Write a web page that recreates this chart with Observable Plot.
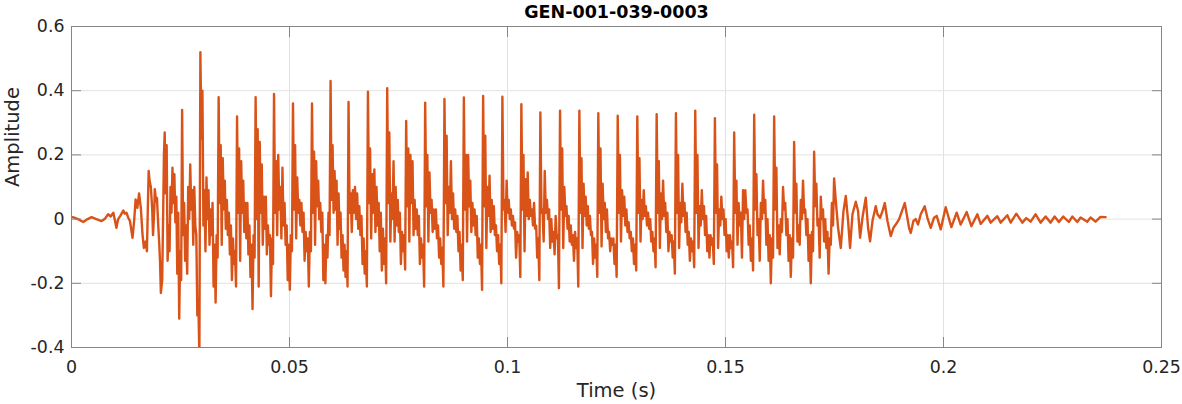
<!DOCTYPE html>
<html>
<head>
<meta charset="utf-8">
<script src="https://cdn.jsdelivr.net/npm/d3@7"></script>
<script src="https://cdn.jsdelivr.net/npm/@observablehq/plot@0.6"></script>
<style>
  html, body { margin: 0; padding: 0; background: #fff; }
</style>
</head>
<body>
<div id="chart"></div>
<script>
// ---- Labels ----
const chartTitle = "GEN-001-039-0003";
const xAxisLabel = "Time (s)";
const yAxisLabel = "Amplitude";
const xTicks = [0, 0.05, 0.1, 0.15, 0.2, 0.25];
const xTickLabels = ["0", "0.05", "0.1", "0.15", "0.2", "0.25"];
const yTicks = [-0.4, -0.2, 0, 0.2, 0.4, 0.6];
const yTickLabels = ["-0.4", "-0.2", "0", "0.2", "0.4", "0.6"];

// ---- Onset (before regular voicing), time in ms and amplitude ----
const onsetMs = [0.3, 1.5, 2.7, 3.7, 4.6, 5.7, 6.9, 7.6, 8.4, 9.0, 9.6, 9.9, 10.3, 10.7, 11.2, 11.9, 12.2, 12.6, 13.0, 13.4,
  14.0, 14.4, 14.7, 15.1, 15.5, 15.9, 16.3, 16.6, 17.0, 17.3, 17.5, 17.7, 17.9, 18.2, 18.5, 18.7, 19.0, 19.1, 19.4, 19.6,
  19.9, 20.1, 20.3, 20.5, 20.8, 21.0, 21.2];
const onsetAmp = [0.006, 0.0, -0.009, 0.0, 0.006, 0.0, -0.006, 0.0, 0.015, 0.008, 0.02, 0.0, -0.027, 0.0, 0.01, 0.027, 0.017, 0.02, 0.005, -0.006,
  -0.058, 0.0, 0.061, 0.035, 0.08, 0.035, -0.05, -0.09, -0.07, -0.1, 0.03, 0.15, 0.12, 0.1, 0.035, -0.05, 0.035, 0.093, 0.055, 0.066,
  -0.02, -0.07, -0.13, -0.23, -0.19, -0.005, 0.2];

// ---- Voiced cycles: time (ms) of each main peak ----
const peakMs = [21.38, 25.37, 29.56, 33.75, 37.97, 42.23, 46.45, 50.80, 55.16, 59.42, 63.54, 67.99, 72.41, 76.76, 81.12,
  85.54, 89.99, 94.41, 98.83, 103.18, 107.54, 112.05, 116.48, 120.83, 125.28, 129.77, 134.21, 138.63, 143.06, 147.57,
  151.99, 156.58, 161.16, 165.74, 170.33, 174.91];

// ---- Within each cycle: successive local highs (first = main peak) ----
const cycleHigh = [
  [0.27, 0.23, -0.02, 0.10, 0.16, 0.14, 0.07, 0.02, -0.10],
  [0.34, 0.05, -0.02, 0.10, 0.17, 0.09, 0.10, -0.05, -0.25],
  [0.52, 0.40, 0.09, 0.13, 0.09, 0.03, 0.05, -0.08, -0.05],
  [0.38, 0.23, 0.19, 0.12, 0.06, 0.02, -0.02, -0.06, -0.10],
  [0.32, 0.22, 0.18, 0.12, 0.05, 0.05, -0.02, -0.08, -0.05],
  [0.38, 0.28, 0.24, 0.17, 0.07, 0.07, -0.02, -0.05, -0.06],
  [0.39, 0.18, 0.20, 0.10, 0.16, 0.05, -0.02, -0.08, -0.05],
  [0.36, 0.23, 0.13, 0.06, 0.05, 0.02, -0.04, -0.06, -0.04],
  [0.36, 0.21, 0.18, 0.12, 0.05, 0.02, -0.08, -0.05, 0.02],
  [0.43, 0.23, 0.15, 0.12, 0.08, 0.02, -0.05, -0.08, -0.10],
  [0.365, 0.08, 0.09, 0.10, 0.08, 0.04, 0.01, -0.06, -0.10],
  [0.397, 0.22, 0.14, 0.155, 0.10, 0.05, 0.02, -0.03, -0.06],
  [0.408, 0.27, 0.08, 0.18, 0.10, 0.06, 0.02, -0.04, -0.05],
  [0.306, 0.22, 0.20, 0.18, 0.06, 0.03, 0.01, -0.06, -0.08],
  [0.363, 0.20, 0.145, 0.06, 0.03, 0.03, -0.02, -0.06, -0.09],
  [0.374, 0.26, 0.10, 0.18, 0.08, 0.03, 0.01, -0.04, -0.08],
  [0.379, 0.20, 0.20, 0.12, 0.05, 0.03, 0.01, -0.06, -0.08],
  [0.384, 0.26, 0.10, 0.135, 0.06, 0.04, -0.02, -0.05, -0.08],
  [0.381, 0.06, 0.12, 0.06, 0.03, 0.01, -0.01, -0.04, -0.05],
  [0.358, 0.20, 0.124, 0.145, 0.06, 0.03, 0.05, -0.02, -0.06],
  [0.332, 0.03, 0.15, 0.06, 0.03, 0.00, -0.04, 0.01, -0.05],
  [0.338, 0.22, 0.10, 0.04, 0.01, -0.02, -0.05, -0.04, -0.06],
  [0.338, 0.19, 0.11, 0.07, 0.04, 0.01, -0.04, -0.06, -0.08],
  [0.33, 0.22, 0.11, 0.05, 0.03, -0.04, -0.06, -0.06, -0.08],
  [0.322, 0.20, 0.09, 0.07, 0.03, -0.01, -0.04, -0.06, -0.08],
  [0.32, 0.19, 0.06, 0.09, 0.04, 0.02, 0.00, -0.04, -0.06],
  [0.327, 0.18, 0.08, 0.12, 0.05, 0.02, -0.04, -0.05, -0.07],
  [0.33, 0.20, 0.05, 0.11, 0.05, 0.02, -0.04, -0.06, -0.07],
  [0.338, 0.20, 0.04, 0.09, 0.04, 0.01, -0.05, -0.05, -0.06],
  [0.314, 0.17, 0.03, 0.07, 0.03, 0.00, -0.05, -0.05, -0.07],
  [0.27, 0.12, 0.05, 0.02, 0.09, 0.09, 0.03, -0.02, -0.06],
  [0.325, 0.14, 0.00, 0.05, 0.12, 0.06, 0.00, -0.05, -0.06],
  [0.32, 0.16, -0.02, 0.00, 0.10, 0.05, 0.00, -0.05, -0.06],
  [0.24, 0.11, -0.02, 0.06, 0.12, 0.03, 0.00, -0.05, -0.04],
  [0.21, 0.11, 0.00, 0.07, 0.03, 0.00, -0.04, -0.06, 0.05]
];
// ---- Within each cycle: successive local lows (last = trough before next peak) ----
const cycleLow = [
  [0.08, -0.13, -0.10, 0.02, 0.05, -0.01, -0.17, -0.31, -0.19],
  [-0.05, -0.13, -0.17, 0.00, 0.03, -0.08, -0.02, -0.30, -0.43],
  [0.25, -0.02, -0.10, 0.00, -0.08, -0.05, -0.21, -0.26, -0.12],
  [0.05, -0.08, 0.03, -0.03, -0.05, -0.11, -0.19, -0.14, -0.21],
  [0.02, -0.13, 0.02, -0.04, -0.06, -0.11, -0.18, -0.28, -0.12],
  [0.00, -0.21, 0.02, -0.08, -0.03, -0.11, -0.08, -0.24, -0.14],
  [0.02, -0.05, 0.03, -0.06, -0.02, -0.08, -0.19, -0.22, -0.10],
  [0.03, -0.06, 0.02, -0.02, -0.04, -0.13, -0.10, -0.21, -0.10],
  [0.02, -0.08, 0.04, 0.00, -0.04, -0.19, -0.20, -0.12, -0.05],
  [0.06, 0.02, 0.03, -0.08, -0.03, -0.12, -0.16, -0.18, -0.21],
  [0.02, -0.04, 0.02, 0.00, -0.03, -0.05, -0.14, -0.17, -0.21],
  [0.05, -0.06, 0.02, -0.04, -0.02, -0.10, -0.16, -0.14, -0.20],
  [0.05, -0.07, 0.00, -0.07, -0.02, -0.04, -0.14, -0.10, -0.157],
  [0.04, -0.07, 0.05, -0.05, -0.03, -0.05, -0.14, -0.12, -0.21],
  [0.04, -0.07, 0.02, -0.04, -0.03, -0.06, -0.12, -0.14, -0.21],
  [0.05, -0.05, 0.02, 0.00, -0.03, -0.04, -0.10, -0.16, -0.19],
  [0.03, -0.07, 0.04, -0.04, -0.02, -0.05, -0.12, -0.14, -0.22],
  [0.04, -0.09, 0.01, -0.04, -0.03, -0.05, -0.10, -0.14, -0.20],
  [0.03, -0.04, 0.02, 0.00, -0.02, -0.03, -0.12, -0.07, -0.18],
  [0.03, -0.10, 0.01, 0.00, 0.01, -0.02, -0.03, -0.12, -0.19],
  [0.02, -0.07, 0.02, 0.00, -0.09, -0.07, -0.11, -0.06, -0.215],
  [0.03, -0.09, 0.01, -0.03, -0.07, -0.08, -0.13, -0.09, -0.21],
  [0.02, -0.09, 0.01, -0.02, -0.03, -0.05, -0.14, -0.12, -0.18],
  [0.02, -0.085, 0.00, -0.04, -0.06, -0.10, -0.08, -0.14, -0.18],
  [0.02, -0.07, 0.01, -0.02, -0.04, -0.06, -0.10, -0.14, -0.16],
  [0.02, -0.07, 0.00, 0.01, -0.02, -0.03, -0.07, -0.10, -0.15],
  [0.02, -0.09, 0.00, 0.01, -0.04, -0.10, -0.07, -0.12, -0.17],
  [0.02, -0.09, -0.01, 0.01, -0.04, -0.08, -0.13, -0.10, -0.15],
  [0.02, -0.09, -0.02, 0.00, -0.05, -0.10, -0.12, -0.08, -0.14],
  [0.02, -0.09, -0.02, 0.00, -0.05, -0.10, -0.12, -0.09, -0.15],
  [0.02, -0.08, -0.02, -0.12, 0.00, 0.02, -0.08, -0.13, -0.16],
  [0.03, -0.05, -0.13, 0.00, 0.02, -0.08, -0.13, -0.20, -0.12],
  [0.03, -0.09, -0.11, -0.04, 0.03, -0.05, -0.13, -0.18, -0.12],
  [0.02, -0.07, -0.08, 0.00, 0.02, -0.05, -0.13, -0.20, -0.10],
  [0.04, -0.02, -0.12, 0.00, -0.07, -0.09, -0.17, -0.08, -0.02]
];

// ---- Decaying tail, time in ms and amplitude ----
const tailMs = [174.91, 175.30, 175.82, 176.44, 177.06, 177.59, 178.12, 178.57, 179.12, 179.88, 180.41, 180.87, 181.41,
  182.17, 182.70, 183.16, 183.71, 184.46, 184.85, 185.45, 186.00, 186.53, 187.15, 187.90, 188.52, 189.05, 189.80, 190.35,
  191.11, 191.57, 192.10, 192.48, 193.10, 193.63, 194.16, 194.78, 195.69, 196.31, 197.07, 197.82, 198.44, 199.36, 200.50,
  201.81, 203.02, 203.94, 205.32, 206.39, 207.77, 208.52, 210.06, 210.82, 212.35, 213.11, 214.64, 215.40, 216.70, 218.08,
  218.99, 219.98, 221.13, 222.27, 223.42, 224.56, 225.48, 226.47, 227.47, 228.76, 229.54, 230.68, 231.44, 232.97, 233.73,
  234.88, 236.02, 237.17];
const tailAmp = [0.127, 0.056, -0.027, -0.09, 0.025, 0.072, -0.006, -0.09, 0.015, 0.054, 0.025, -0.058, 0.004,
  0.067, -0.027, -0.069, -0.006, 0.04, 0.015, 0.004, 0.025, 0.05, -0.006, -0.053, -0.027, -0.017, -0.001, 0.02,
  0.05, 0.015, -0.027, -0.043, -0.006, 0.0, -0.017, 0.015, 0.04, 0.004, -0.027, 0.004, 0.01, -0.032, 0.037,
  -0.025, 0.02, -0.017, 0.022, -0.022, 0.015, -0.015, 0.01, -0.011, 0.009, -0.011, 0.012, -0.011, 0.017, -0.011,
  0.003, -0.008, 0.015, -0.011, 0.008, -0.011, 0.008, -0.009, 0.008, -0.009, 0.008, -0.009, 0.005, -0.008, 0.005,
  -0.008, 0.007, 0.006];

// ---- Build the sample table ----
const samples = [];
onsetMs.forEach((t, i) => samples.push({t: t / 1000, a: onsetAmp[i]}));
cycleHigh.forEach((hi, k) => {
  const lo = cycleLow[k];
  const t0 = peakMs[k], t1 = peakMs[k + 1];
  const n = hi.length + lo.length;
  hi.forEach((h, j) => {
    samples.push({t: (t0 + (t1 - t0) * (2 * j) / n) / 1000, a: h});
    samples.push({t: (t0 + (t1 - t0) * (2 * j + 1) / n) / 1000, a: lo[j]});
  });
});
tailMs.forEach((t, i) => samples.push({t: t / 1000, a: tailAmp[i]}));

const fmtFrom = (ticks, labels) => (d) => labels[ticks.findIndex((v) => Math.abs(v - d) < 1e-9)];
const axisGray = "#868686";
const textGray = "#262626";

const chart = Plot.plot({
  width: 1182,
  height: 404,
  marginLeft: 71,
  marginRight: 21,
  marginTop: 26,
  marginBottom: 57,
  style: {fontFamily: "'DejaVu Sans', sans-serif", fontSize: "17.4px", color: textGray, background: "#fff", overflow: "visible"},
  x: {domain: [0, 0.25]},
  y: {domain: [-0.4, 0.6]},
  marks: [
    Plot.gridX({ticks: xTicks, stroke: "#e2e2e2", strokeOpacity: 1}),
    Plot.gridY({ticks: yTicks, stroke: "#e2e2e2", strokeOpacity: 1}),
    Plot.line(samples, {x: "t", y: "a", stroke: "#D95319", strokeWidth: 2.4, clip: true}),
    Plot.frame({stroke: axisGray}),
    Plot.axisX({ticks: xTicks, anchor: "bottom", tickSize: -10, fill: null, stroke: axisGray, label: null}),
    Plot.axisX({ticks: xTicks, anchor: "top", tickSize: -10, fill: null, stroke: axisGray, label: null}),
    Plot.axisY({ticks: yTicks, anchor: "left", tickSize: -10, fill: null, stroke: axisGray, label: null}),
    Plot.axisY({ticks: yTicks, anchor: "right", tickSize: -10, fill: null, stroke: axisGray, label: null}),
    Plot.axisX({ticks: xTicks, anchor: "bottom", tickSize: 0, tickPadding: 13, tickFormat: fmtFrom(xTicks, xTickLabels), fill: textGray, label: null}),
    Plot.axisY({ticks: yTicks, anchor: "left", tickSize: 0, tickPadding: 7, tickFormat: fmtFrom(yTicks, yTickLabels), fill: textGray, label: null}),
    Plot.text([xAxisLabel], {text: (d) => d, frameAnchor: "bottom", lineAnchor: "top", dy: 36, fontSize: 19.5, fill: textGray}),
    Plot.text([yAxisLabel], {text: (d) => d, frameAnchor: "left", rotate: -90, lineAnchor: "top", dx: -66, fontSize: 19.5, fill: textGray}),
    Plot.text([chartTitle], {text: (d) => d, frameAnchor: "top", lineAnchor: "top", dy: -21, fontSize: 17.5, fontWeight: "bold", fill: "#000"})
  ]
});
document.getElementById("chart").appendChild(chart);
</script>
</body>
</html>
